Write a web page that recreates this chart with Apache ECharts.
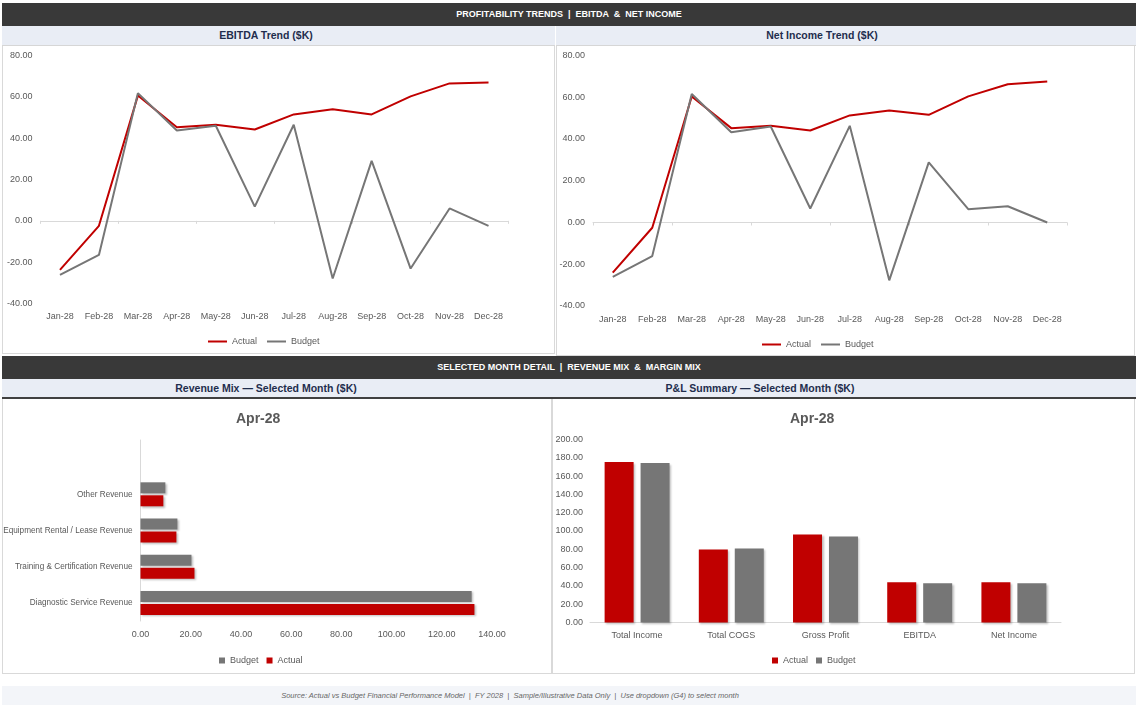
<!DOCTYPE html>
<html>
<head>
<meta charset="utf-8">
<script src="https://cdn.jsdelivr.net/npm/echarts@6/dist/echarts.min.js"></script>
<style>
  body { margin: 0; width: 1136px; height: 705px; background: #fff; position: relative; overflow: hidden;
         font-family: "Liberation Sans", Arial, sans-serif; }
  .bar { position: absolute; background: #393939; color: #fff; font-family: "Liberation Sans", sans-serif;
         font-weight: bold; font-size: 9px; line-height: 23px; text-align: center; white-space: pre; }
  .sub { position: absolute; background: #E9EDF5; height: 19px; }
  .sub span { position: absolute; top: 0; line-height: 19px; transform: translateX(-50%); white-space: nowrap;
              font-weight: bold; font-size: 10.5px; color: #1F2D4D; }
  .panel { position: absolute; box-sizing: border-box; border: 1px solid #D9D9D9; border-top: none; }
  .foot { position: absolute; left: 2px; top: 686px; width: 1134px; height: 19px; background: #F3F5F9; }
  .foot span { position: absolute; left: 508px; transform: translateX(-50%); line-height: 19px; white-space: pre;
               font-family: "Liberation Sans", sans-serif; font-style: italic; font-size: 7.5px; color: #666; }
</style>
</head>
<body>
<div class="bar" style="left:2px;top:3px;width:1134px;height:23px;">PROFITABILITY TRENDS  |  EBITDA  &amp;  NET INCOME</div>
<div class="sub" style="left:2px;top:26px;width:553px;border-bottom:1px solid #D6D6D6;"><span style="left:264px">EBITDA Trend ($K)</span></div>
<div class="sub" style="left:556px;top:26px;width:580px;border-bottom:1px solid #D6D6D6;"><span style="left:266px">Net Income Trend ($K)</span></div>
<div class="panel" id="c1" style="left:2px;top:46px;width:553px;height:308px;"></div>
<div class="panel" id="c2" style="left:556px;top:46px;width:579px;height:310px;"></div>

<div class="bar" style="left:2px;top:356px;width:1134px;height:23px;">SELECTED MONTH DETAIL  |  REVENUE MIX  &amp;  MARGIN MIX</div>
<div class="sub" style="left:2px;top:379px;width:1134px;border-bottom:2px solid #404040;height:18px;">
  <span style="left:264px;line-height:18px">Revenue Mix — Selected Month ($K)</span>
  <span style="left:758px;line-height:18px">P&amp;L Summary — Selected Month ($K)</span>
</div>
<div class="panel" id="c3" style="left:2px;top:399px;width:550px;height:275px;"></div>
<div class="panel" id="c4" style="left:552px;top:399px;width:583px;height:275px;"></div>

<div class="foot"><span>Source: Actual vs Budget Financial Performance Model  |  FY 2028  |  Sample/Illustrative Data Only  |  Use dropdown (G4) to select month</span></div>

<script>
// ---- data ----
const months = ['Jan-28', 'Feb-28', 'Mar-28', 'Apr-28', 'May-28', 'Jun-28', 'Jul-28', 'Aug-28', 'Sep-28', 'Oct-28', 'Nov-28', 'Dec-28'];
const ebitdaActual = [-23.7, -2.4, 60.6, 45.3, 46.5, 44.2, 51.5, 54.0, 51.5, 60.2, 66.5, 66.9];
const ebitdaBudget = [-26.1, -16.5, 61.8, 43.7, 46.0, 6.9, 46.5, -27.9, 29.0, -23.1, 6.0, -2.4];
const netActual = [-24.0, -2.5, 60.4, 45.2, 46.3, 44.1, 51.3, 53.7, 51.6, 60.4, 66.2, 67.5];
const netBudget = [-26.1, -16.1, 61.6, 43.2, 46.0, 6.7, 46.3, -27.7, 28.8, 6.4, 7.8, 0.0];

const selectedMonth = 'Apr-28';
// bottom to top, top slot is empty
const revenueCats = ['Diagnostic Service Revenue', 'Training & Certification Revenue', 'Equipment Rental / Lease Revenue', 'Other Revenue', ''];
const revenueActual = [133.0, 21.5, 14.3, 9.1, null];
const revenueBudget = [131.9, 20.3, 14.7, 9.9, null];

const plCats = ['Total Income', 'Total COGS', 'Gross Profit', 'EBITDA', 'Net Income'];
const plActual = [175.4, 79.9, 96.2, 44.1, 44.1];
const plBudget = [174.3, 81.0, 94.0, 43.0, 43.0];

const RED = '#C00000';
const GRAY = '#767676';
const AXIS = '#D9D9D9';
const TXT = '#595959';
const FONT = '"Liberation Sans", Arial, sans-serif';

function fmt(v) { return v.toFixed(2); }

const barShadow = { shadowBlur: 2, shadowOffsetX: 1.5, shadowOffsetY: 1.5, shadowColor: 'rgba(0,0,0,0.25)' };

function lineOption(actual, budget, grid, legendLeft, legendTop) {
  return {
    animation: false,
    textStyle: { fontFamily: FONT },
    grid: Object.assign({ outerBoundsMode: 'none' }, grid),
    legend: {
      left: legendLeft, top: legendTop, icon: 'rect', itemWidth: 19, itemHeight: 2, itemGap: 10,
      textStyle: { fontFamily: FONT, fontSize: 9, color: TXT },
      data: ['Actual', 'Budget']
    },
    xAxis: [
      {
        type: 'category', data: months, boundaryGap: true,
        axisLine: { show: false, onZero: false }, axisTick: { show: false },
        axisLabel: { fontFamily: FONT, fontSize: 9, color: TXT, margin: 9, interval: 0 }
      },
      {
        type: 'category', data: months, boundaryGap: true, position: 'top',
        axisLine: { show: true, onZero: true, lineStyle: { color: AXIS, width: 1 } },
        axisTick: { show: true, inside: true, length: 3, lineStyle: { color: AXIS } },
        axisLabel: { show: false }
      }
    ],
    yAxis: {
      type: 'value', min: -40, max: 80, interval: 20,
      axisLine: { show: false }, axisTick: { show: false }, splitLine: { show: false },
      axisLabel: { fontFamily: FONT, fontSize: 9, color: TXT, margin: 8, formatter: fmt }
    },
    series: [
      { name: 'Actual', type: 'line', xAxisIndex: 0, data: actual, symbol: 'none',
        lineStyle: { color: RED, width: 2 }, itemStyle: { color: RED } },
      { name: 'Budget', type: 'line', xAxisIndex: 0, data: budget, symbol: 'none',
        lineStyle: { color: GRAY, width: 2 }, itemStyle: { color: GRAY } }
    ]
  };
}

const c1 = echarts.init(document.getElementById('c1'));
c1.setOption(lineOption(ebitdaActual, ebitdaBudget, { left: 37.5, right: 46, top: 9.5, bottom: 49.5 }, 200, 286));

const c2 = echarts.init(document.getElementById('c2'));
c2.setOption(lineOption(netActual, netBudget, { left: 36, right: 67, top: 9.5, bottom: 49 }, 200, 289));

// ---- revenue mix (horizontal bars) ----
const c3 = echarts.init(document.getElementById('c3'));
c3.setOption({
  animation: false,
  title: {
    text: selectedMonth, left: 228, top: 8,
    textStyle: { fontFamily: FONT, fontSize: 14, fontWeight: 'bold', color: TXT }
  },
  grid: { left: 137.5, right: 59, top: 41, bottom: 52, outerBoundsMode: 'none' },
  legend: {
    left: 211, top: 252, icon: 'rect', itemWidth: 6, itemHeight: 6, itemGap: 8,
    textStyle: { fontFamily: FONT, fontSize: 9, color: TXT },
    data: ['Budget', 'Actual']
  },
  xAxis: {
    type: 'value', min: 0, max: 140, interval: 20,
    axisLine: { show: false }, axisTick: { show: false }, splitLine: { show: false },
    axisLabel: { fontFamily: FONT, fontSize: 9, color: TXT, margin: 9, formatter: fmt }
  },
  yAxis: {
    type: 'category', data: revenueCats,
    axisLine: { show: true, lineStyle: { color: AXIS } }, axisTick: { show: false },
    axisLabel: { fontFamily: FONT, fontSize: 8.2, color: TXT, margin: 8 }
  },
  series: [
    { name: 'Budget', type: 'bar', data: revenueBudget, barWidth: 11, barGap: '18%',
      itemStyle: Object.assign({ color: GRAY }, barShadow) },
    { name: 'Actual', type: 'bar', data: revenueActual, barWidth: 11,
      itemStyle: Object.assign({ color: RED }, barShadow) }
  ]
});

// ---- P&L summary (vertical bars) ----
const c4 = echarts.init(document.getElementById('c4'));
c4.setOption({
  animation: false,
  title: {
    text: selectedMonth, left: 232, top: 8,
    textStyle: { fontFamily: FONT, fontSize: 14, fontWeight: 'bold', color: TXT }
  },
  grid: { left: 37, right: 73, top: 40.5, bottom: 50.5, outerBoundsMode: 'none' },
  legend: {
    left: 214, top: 252, icon: 'rect', itemWidth: 6, itemHeight: 6, itemGap: 8,
    textStyle: { fontFamily: FONT, fontSize: 9, color: TXT },
    data: ['Actual', 'Budget']
  },
  xAxis: {
    type: 'category', data: plCats,
    axisLine: { show: true, lineStyle: { color: AXIS } }, axisTick: { show: false },
    axisLabel: { fontFamily: FONT, fontSize: 9, color: TXT, margin: 9 }
  },
  yAxis: {
    type: 'value', min: 0, max: 200, interval: 20,
    axisLine: { show: false }, axisTick: { show: false }, splitLine: { show: false },
    axisLabel: { fontFamily: FONT, fontSize: 9, color: TXT, margin: 7, formatter: fmt }
  },
  series: [
    { name: 'Actual', type: 'bar', data: plActual, barWidth: 29, barGap: '24%',
      itemStyle: Object.assign({ color: RED }, barShadow) },
    { name: 'Budget', type: 'bar', data: plBudget, barWidth: 29,
      itemStyle: Object.assign({ color: GRAY }, barShadow) }
  ]
});
</script>
</body>
</html>
